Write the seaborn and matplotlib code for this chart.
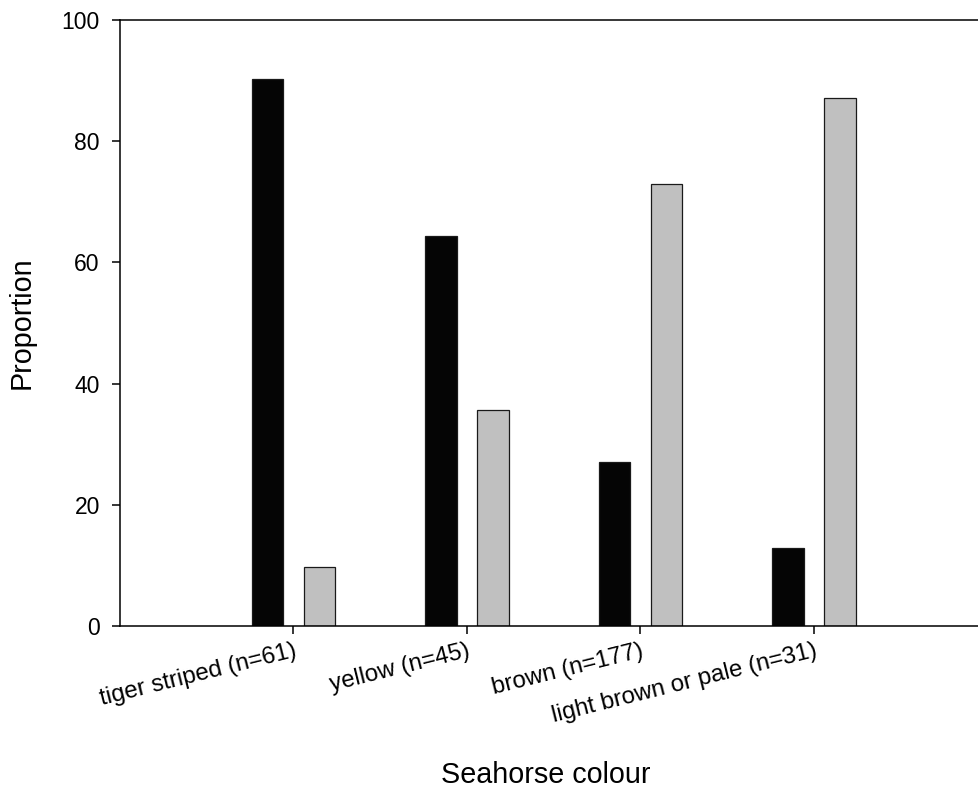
import matplotlib
matplotlib.use("Agg")
import matplotlib.pyplot as plt
import seaborn as sns
import pandas as pd

# Seahorse colour categories and the proportion in each of two groups
categories = ["tiger striped (n=61)", "yellow (n=45)", "brown (n=177)",
              "light brown or pale (n=31)"]
dark_values = [90.2, 64.4, 27.1, 12.9]
light_values = [9.8, 35.6, 72.9, 87.1]
y_ticks = [0, 20, 40, 60, 80, 100]

df = pd.DataFrame({
    "colour": categories * 2,
    "proportion": dark_values + light_values,
    "group": ["dark"] * len(categories) + ["light"] * len(categories),
})

sns.set_theme(style="ticks")
plt.rcParams["font.family"] = ["Liberation Sans", "DejaVu Sans"]

fig = plt.figure(figsize=(9.79, 7.92), dpi=100)
W, H = 979, 792
left, right, top, bottom = 120, 987.5, 20, 626
ax = fig.add_axes([left / W, 1 - bottom / H, (right - left) / W, (bottom - top) / H])

sns.barplot(data=df, x="colour", y="proportion", hue="group",
            palette={"dark": "#050505", "light": "#c0c0c0"},
            width=0.6, gap=0.4, legend=False, ax=ax,
            edgecolor="#1a1a1a", linewidth=0.9, errorbar=None)

ax.set_xlim(-1, 4)
ax.set_ylim(0, 100)
ax.set_yticks(y_ticks)
ax.tick_params(axis="both", direction="out", length=6, width=1.1,
               color="black", labelcolor="black")
ax.tick_params(axis="y", labelsize=16.5, pad=8.5)
ax.tick_params(axis="x", labelsize=17.3, pad=4)
for lab in ax.get_xticklabels():
    lab.set_rotation(14)
    lab.set_ha("right")
    lab.set_rotation_mode("anchor")

for side in ["left", "bottom", "top", "right"]:
    ax.spines[side].set_visible(True)
    ax.spines[side].set_linewidth(1.1)
    ax.spines[side].set_color("black")

ax.set_xlabel("Seahorse colour", fontsize=20.7, color="black")
ax.set_ylabel("Proportion", fontsize=20.7, color="black")
ax.xaxis.set_label_coords((546 - left) / (right - left), (bottom - 775) / (bottom - top))
ax.yaxis.set_label_coords((22 - left) / (right - left), 0.5)
ax.xaxis.label.set_va("center")
ax.yaxis.label.set_va("center")

fig.savefig("out.png", dpi=100)
